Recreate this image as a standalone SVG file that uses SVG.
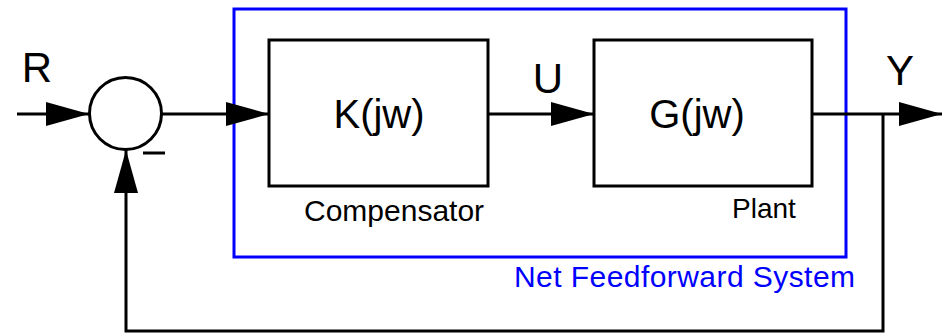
<svg xmlns="http://www.w3.org/2000/svg" width="942" height="335" viewBox="0 0 942 335">
<style>
.ln{fill:none;stroke:#000;stroke-width:3}
.bx{fill:#fff;stroke:#000;stroke-width:3}
.t{font-family:"Liberation Sans",Arial,sans-serif;fill:#000}
.big{font-size:40px}
.lbl{font-size:42px}
.blue{fill:#0000ff}
</style>
<defs>
<marker id="ah" markerUnits="userSpaceOnUse" markerWidth="44" markerHeight="24" refX="43" refY="12" orient="auto">
<path d="M0,0 L43,12 L0,24 Z" fill="#000"/>
</marker>
</defs>
<rect x="234" y="9" width="612" height="248" fill="none" stroke="#0000ff" stroke-width="3"/>
<text class="t blue" x="514" y="287" font-size="30" textLength="341">Net Feedforward System</text>
<g id="connectors">
<line class="ln" x1="17" y1="114" x2="89" y2="114" marker-end="url(#ah)"/>
<line class="ln" x1="162" y1="114" x2="269" y2="114" marker-end="url(#ah)"/>
<line class="ln" x1="488" y1="114" x2="594" y2="114" marker-end="url(#ah)"/>
<line class="ln" x1="812" y1="114" x2="942" y2="114" marker-end="url(#ah)"/>
<path class="ln" d="M883,114 V331 H126 V150" marker-end="url(#ah)"/>
<line x1="143" y1="153" x2="165" y2="153" stroke="#000" stroke-width="3"/>
</g>
<g id="sum">
<circle class="bx" cx="125.5" cy="113.5" r="36"/>
</g>
<g id="K">
<rect class="bx" x="269" y="40" width="219" height="146"/>
<text class="t big" x="379" y="128" text-anchor="middle">K(jw)</text>
<text class="t" x="304" y="221" font-size="30">Compensator</text>
</g>
<g id="G">
<rect class="bx" x="594" y="40" width="218" height="146"/>
<text class="t big" x="697" y="128" text-anchor="middle">G(jw)</text>
<text class="t" x="732" y="218" font-size="28">Plant</text>
</g>
<g id="labels">
<text class="t lbl" x="37" y="82" text-anchor="middle">R</text>
<text class="t lbl" x="548" y="93" text-anchor="middle">U</text>
<text class="t lbl" x="900" y="85" text-anchor="middle">Y</text>
</g>
</svg>
